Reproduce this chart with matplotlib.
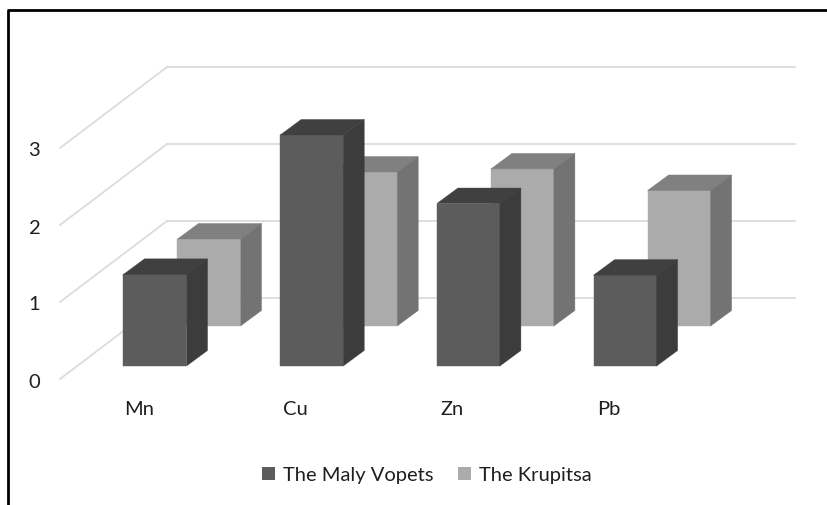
import matplotlib
matplotlib.use("Agg")
import matplotlib.pyplot as plt
from matplotlib.patches import Patch, Polygon

plt.rcParams['font.family'] = ['Lato', 'DejaVu Sans']

categories = ["Mn", "Cu", "Zn", "Pb"]
maly_vopets = [1.19, 3.0, 2.11, 1.18]
krupitsa = [1.13, 2.0, 2.04, 1.76]
value_ticks = [0, 1, 2, 3]
series_names = ["The Maly Vopets", "The Krupitsa"]

W, H = 828, 505
UNIT = 77.0          # pixels per value unit
BASE_Y = 366.0       # pixel row of the front bars' baseline

fig = plt.figure(figsize=(W / 100, H / 100), dpi=100)
ax = fig.add_axes([0, 0, 1, 1])
# x in pixels, y in value units measured from the front baseline
ax.set_xlim(0, W)
ax.set_ylim(-(H - BASE_Y) / UNIT, BASE_Y / UNIT)
ax.axis("off")


def py(px):
    return (BASE_Y - px) / UNIT


# --- walls ---
grid_col = "#dcdcdc"
for v in value_ticks:
    yb = py(298) + v
    yf = py(379) + v
    ax.plot([60, 167], [yf, yb], color=grid_col, lw=1.3, zorder=1)
    ax.plot([167, 795], [yb, yb], color=grid_col, lw=1.3, zorder=1)
    ax.text(34.5, py(382) + v, str(v), ha="center", va="center",
            fontsize=14.5, color="#1f1f1f")


# --- bars ---
def draw_bar(left, base, val, face, top, side, z):
    w, dx, dy = 63, 21, 15.5 / UNIT
    ax.add_patch(Polygon([(left, base), (left + w, base), (left + w, base + val), (left, base + val)],
                         fc=face, ec=face, lw=0.3, zorder=z))
    ax.add_patch(Polygon([(left, base + val), (left + w, base + val),
                          (left + w + dx, base + val + dy), (left + dx, base + val + dy)],
                         fc=top, ec=top, lw=0.3, zorder=z))
    ax.add_patch(Polygon([(left + w, base), (left + w + dx, base + dy),
                          (left + w + dx, base + val + dy), (left + w, base + val)],
                         fc=side, ec=side, lw=0.3, zorder=z))


step = 156.7
for i in range(len(categories)):
    draw_bar(177.5 + i * step, py(326), krupitsa[i], "#ababab", "#808080", "#737373", 2 + i * 0.1)
for i in range(len(categories)):
    draw_bar(123.5 + i * step, 0, maly_vopets[i], "#5c5c5c", "#404040", "#3c3c3c", 3 + i * 0.1)

for i, c in enumerate(categories):
    ax.text(139 + i * step, py(409.5), c, ha="center", va="center",
            fontsize=14.5, color="#1f1f1f")

# --- legend ---
handles = [Patch(fc="#5c5c5c"), Patch(fc="#ababab")]
ax.legend(handles, series_names, loc="center", bbox_to_anchor=(427 / W, 1 - 475 / H),
          ncol=2, frameon=False, fontsize=14.5, labelcolor="#1f1f1f",
          handlelength=0.62, handleheight=0.62, handletextpad=0.42,
          columnspacing=1.2, borderpad=0)

# --- picture frame: top and left only ---
ax.plot([7, W], [py(10), py(10)], color="black", lw=2, zorder=5, solid_capstyle="butt")
ax.plot([8, 8], [py(10), py(H)], color="black", lw=2, zorder=5, solid_capstyle="butt")

fig.savefig("out.png", dpi=100, facecolor="white")
